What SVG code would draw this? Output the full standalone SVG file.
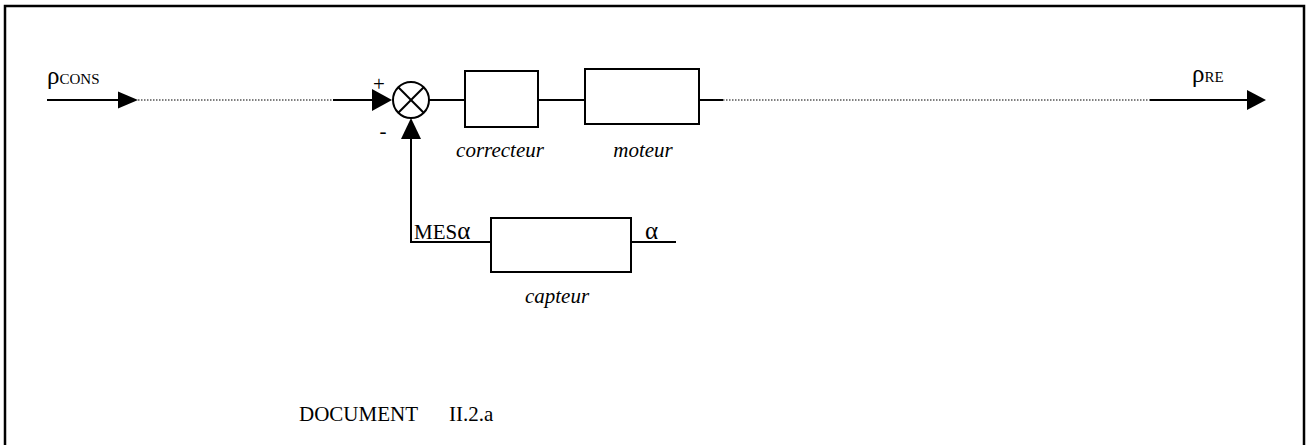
<svg xmlns="http://www.w3.org/2000/svg" width="1307" height="445" viewBox="0 0 1307 445">
<style>
.ln{stroke:#000;stroke-width:2;fill:none}
.dot{stroke:#000;stroke-width:1.2;stroke-dasharray:1.5 1.5;fill:none}
.box{fill:#fff;stroke:#000;stroke-width:2}
.ah{fill:#000}
.t{font-family:"Liberation Serif","Times New Roman",serif;font-size:21px;fill:#000}
.it{font-style:italic}
.sm{font-size:15px}
.gr{font-size:25px}
</style>
<rect width="1307" height="445" fill="#fff"/>
<rect x="5" y="6" width="1299" height="460" fill="none" stroke="#000" stroke-width="2.5"/>
<g id="connectors">
<line class="ln" x1="47" y1="100" x2="120" y2="100"/>
<polygon class="ah" points="118,91.5 138,100 118,108.5"/>
<line class="dot" x1="138" y1="100" x2="333" y2="100"/>
<line class="ln" x1="333" y1="100" x2="374" y2="100"/>
<polygon class="ah" points="372,89 392,100 372,111"/>
<line class="ln" x1="429" y1="100" x2="465" y2="100"/>
<line class="ln" x1="538" y1="100" x2="585" y2="100"/>
<line class="ln" x1="699" y1="100" x2="723" y2="100"/>
<line class="dot" x1="723" y1="100" x2="1150" y2="100"/>
<line class="ln" x1="1150" y1="100" x2="1249" y2="100"/>
<polygon class="ah" points="1247,90 1266,100 1247,110"/>
<polyline class="ln" points="411,137 411,242 491,242"/>
<polygon class="ah" points="401,139 421,139 411,118"/>
<line class="ln" x1="631" y1="242" x2="676" y2="242"/>
</g>
<g id="sum">
<circle cx="411" cy="100" r="18" class="box"/>
<line class="ln" x1="398.3" y1="87.3" x2="423.7" y2="112.7"/>
<line class="ln" x1="423.7" y1="87.3" x2="398.3" y2="112.7"/>
<text class="t" x="379" y="91" font-size="17" text-anchor="middle">+</text>
<text class="t" x="383" y="138" font-size="20" text-anchor="middle">-</text>
</g>
<g id="correcteur">
<rect class="box" x="465" y="71" width="73" height="56"/>
<text class="t it" x="500" y="157" text-anchor="middle">correcteur</text>
</g>
<g id="moteur">
<rect class="box" x="585" y="69" width="114" height="55"/>
<text class="t it" x="643" y="157" text-anchor="middle">moteur</text>
</g>
<g id="capteur">
<rect class="box" x="491" y="218" width="140" height="54"/>
<text class="t it" x="557" y="303" text-anchor="middle">capteur</text>
</g>
<g id="labels">
<text class="t" x="47" y="84"><tspan class="gr">ρ</tspan><tspan class="sm">CONS</tspan></text>
<text class="t" x="1192" y="82"><tspan class="gr">ρ</tspan><tspan class="sm">RE</tspan></text>
<text class="t" x="414" y="239">MES<tspan class="gr">α</tspan></text>
<text class="t gr" x="645" y="239">α</text>
<text class="t" x="299" y="421" font-size="22">DOCUMENT<tspan x="449">II.2.a</tspan></text>
</g>
</svg>
